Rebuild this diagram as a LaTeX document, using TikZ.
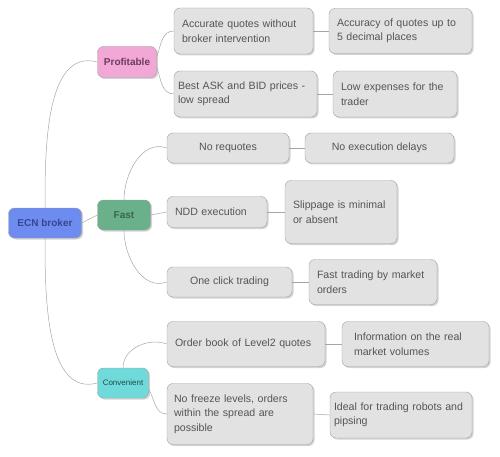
\documentclass[tikz,border=0pt]{standalone}
\usepackage{fontspec}
\setmainfont{Liberation Sans}
\usetikzlibrary{shadows}

\definecolor{rootblue}{HTML}{6E8CF0}
\definecolor{roottext}{HTML}{34478F}
\definecolor{profpink}{HTML}{F2A8D6}
\definecolor{proftext}{HTML}{6E3A5E}
\definecolor{fastgreen}{HTML}{6AB08A}
\definecolor{fasttext}{HTML}{3A6652}
\definecolor{convcyan}{HTML}{70DADA}
\definecolor{convtext}{HTML}{1E4A50}
\definecolor{leafgray}{HTML}{E2E2E2}
\definecolor{leaftext}{HTML}{555555}

\begin{document}
\begin{tikzpicture}[
    x=1pt, y=1pt,
    box/.style={draw=gray!75, rounded corners=6pt, inner sep=0pt,
        drop shadow={opacity=0.35, shadow xshift=1.5pt, shadow yshift=-1.5pt}}, % common look
    branch/.style={box, font=\bfseries\fontsize{10}{12}\selectfont, align=center}, % coloured boxes
    leaf/.style={box, fill=leafgray, text=leaftext, align=left,
        font=\fontsize{10.6}{14.5}\selectfont}, % grey boxes
    link/.style={gray!70, line width=0.5pt} % connectors
]
    % canvas of the reference
    \useasboundingbox (0,0) rectangle (500,-457);

    % --- Root and branches ---
    \node[branch, fill=rootblue, text=roottext, minimum width=73, minimum height=30] (ecn) at (45,-223) {ECN broker};
    \node[branch, fill=profpink, text=proftext, minimum width=59, minimum height=31] (profitable) at (127,-62) {Profitable};
    \node[branch, fill=fastgreen, text=fasttext, minimum width=53, minimum height=30] (fast) at (124,-215) {Fast};
    \node[branch, fill=convcyan, text=convtext, minimum width=51, minimum height=30,
        font=\fontsize{8}{10}\selectfont] (convenient) at (123,-383) {Convenient};

    % --- Profitable ---
    \node[leaf, text width=123, minimum width=139, minimum height=46] (accurate) at (243.5,-31) {Accurate quotes without\\broker intervention};
    \node[leaf, text width=127, minimum width=143, minimum height=45] (accuracy) at (400.5,-31) {Accuracy of quotes up to\\5 decimal places};
    \node[leaf, text width=135, minimum width=143, minimum height=46] (bestask) at (245.5,-94) {Best ASK and BID prices -\\low spread};
    \node[leaf, text width=108, minimum width=124, minimum height=46] (lowexp) at (395,-94) {Low expenses for the\\trader};

    % --- Fast ---
    \node[leaf, align=center, minimum width=122, minimum height=30] (requotes) at (228,-148) {No requotes};
    \node[leaf, align=center, minimum width=149, minimum height=30] (delays) at (379.5,-148) {No execution delays};
    \node[leaf, text width=84, minimum width=100, minimum height=31] (ndd) at (217,-212) {NDD execution};
    \node[leaf, text width=96, minimum width=112, minimum height=63] (slippage) at (341,-212) {Slippage is minimal\\or absent};
    \node[leaf, align=center, minimum width=125, minimum height=30] (oneclick) at (229.5,-282) {One click trading};
    \node[leaf, text width=112, minimum width=128, minimum height=45] (fasttrade) at (373,-282) {Fast trading by market\\orders};

    % --- Convenient ---
    \node[leaf, text width=142, minimum width=158, minimum height=45] (orderbook) at (246,-344) {Order book of Level2 quotes};
    \node[leaf, text width=133, minimum width=147, minimum height=45] (information) at (415.5,-344) {\hspace*{5pt}Information on the real\\\hspace*{5pt}market volumes};
    \node[leaf, text width=132, minimum width=146, minimum height=61] (freeze) at (240,-414) {No freeze levels, orders\\within the spread are\\possible};
    \node[leaf, text width=134, minimum width=142, minimum height=46] (ideal) at (401,-415) {Ideal for trading robots and\\pipsing};

    % --- Connectors: root to branches ---
    \draw[link] (ecn.north) to[out=90, in=165, looseness=0.9] (profitable.west);
    \draw[link] (ecn.east) -- (fast.west);
    \draw[link] (ecn.south) to[out=-90, in=195, looseness=0.9] (convenient.west);

    % --- Connectors: branches to leaves ---
    \draw[link] ([yshift=5pt]profitable.east) to[out=70, in=180] (accurate.west);
    \draw[link] ([yshift=-5pt]profitable.east) to[out=-70, in=180] (bestask.west);
    \draw[link] (fast.north) to[out=90, in=160] (requotes.west);
    \draw[link] (fast.east) -- (ndd.west);
    \draw[link] (fast.south) to[out=-90, in=200] (oneclick.west);
    \draw[link] (convenient.north) to[out=90, in=160] (orderbook.west);
    \draw[link] ([yshift=-6pt]convenient.east) to[out=-60, in=180] (freeze.west);

    % --- Connectors: leaves to leaves ---
    \foreach \a/\b in {accurate/accuracy, bestask/lowexp, requotes/delays, ndd/slippage,
        oneclick/fasttrade, orderbook/information, freeze/ideal} {
        \draw[link] (\a.east) -- (\b.west);
    }
\end{tikzpicture}
\end{document}
